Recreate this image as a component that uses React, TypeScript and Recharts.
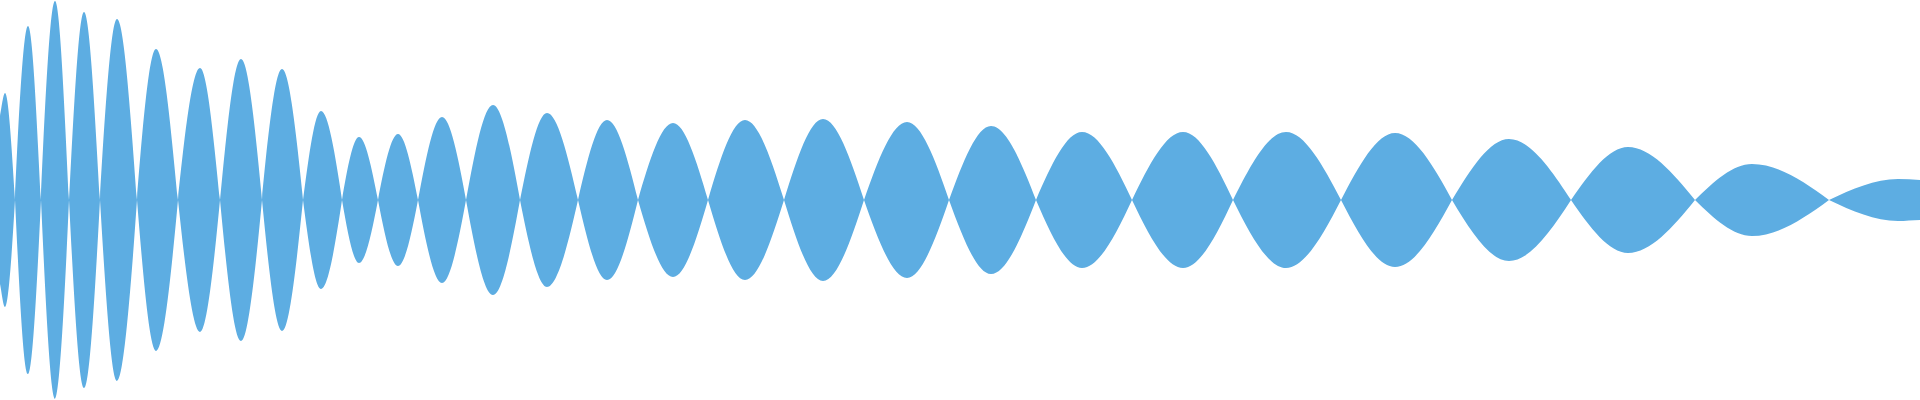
import React from 'react';
import { AreaChart, Area, XAxis, YAxis } from 'recharts';

// signal envelope: one lobe per half-cycle
const startX = 0;
const startAmp = 84;
const endX = 1920;
const endAmp = 20;

const peakX = [
  5, 28, 55, 84, 117, 156, 200, 241, 282, 321, 359, 398, 442, 493, 547,
  607, 673, 745, 823, 907, 991, 1082, 1183, 1286, 1395, 1509, 1628, 1752, 1898,
];
const peakAmp = [
  107, 174, 199, 188, 181, 151, 132, 141, 131, 89, 63, 66, 83, 95, 87,
  80, 77, 80, 81, 78, 74, 68, 68, 68, 67, 61, 53, 36, 21,
];
const crossX = [
  15, 41, 69, 100, 137, 178, 220, 262, 303, 342, 378, 418, 466, 520, 578,
  638, 708, 784, 864, 949, 1036, 1132, 1233, 1341, 1452, 1571, 1695, 1829,
];

const FILL = '#5dade2';

const buildData = () => {
  const rows: { x: number; v: number }[] = [{ x: startX, v: startAmp }];
  peakX.forEach((px, i) => {
    const sign = i % 2 === 0 ? 1 : -1;
    rows.push({ x: px, v: sign * peakAmp[i] });
    if (i < crossX.length) rows.push({ x: crossX[i], v: 0 });
  });
  rows.push({ x: endX, v: endAmp });
  // mirrored band between -v and v
  return rows.map((r) => ({ x: r.x, range: [-r.v, r.v] }));
};

const chartData = buildData();

// wave-shaped curve: flat at the peaks, steep through the zero crossings
const waveCurve = (context: any) => {
  let line = NaN;
  let pts: number[][] = [];

  const tangent = (i: number, s: number) => {
    if (i === 0 || i === pts.length - 1) return s;
    const a = pts[i][1] - pts[i - 1][1];
    const b = pts[i + 1][1] - pts[i][1];
    if (a * b <= 0) return 0;
    return (s * Math.PI) / 2;
  };

  return {
    areaStart() {
      line = 0;
    },
    areaEnd() {
      line = NaN;
    },
    lineStart() {
      pts = [];
    },
    point(x: number, y: number) {
      pts.push([+x, +y]);
    },
    lineEnd() {
      if (pts.length) {
        const [fx, fy] = pts[0];
        if (line) context.lineTo(fx, fy);
        else context.moveTo(fx, fy);
        for (let i = 0; i < pts.length - 1; i++) {
          const [x0, y0] = pts[i];
          const [x1, y1] = pts[i + 1];
          const h = x1 - x0;
          const s = h === 0 ? 0 : (y1 - y0) / h;
          const m0 = tangent(i, s);
          const m1 = tangent(i + 1, s);
          context.bezierCurveTo(
            x0 + h / 3,
            y0 + (m0 * h) / 3,
            x1 - h / 3,
            y1 - (m1 * h) / 3,
            x1,
            y1,
          );
        }
      }
      if (line || (line !== 0 && pts.length === 1)) context.closePath();
      line = 1 - line;
    },
  };
};

const App = () => {
  return (
    <div style={{ width: 1920, height: 400 }}>
      <style>{'body{margin:0}'}</style>
      <AreaChart
        width={1920}
        height={400}
        data={chartData}
        margin={{ top: 0, right: 0, bottom: 0, left: 0 }}
      >
        <XAxis type="number" dataKey="x" domain={[0, 1920]} hide />
        <YAxis type="number" domain={[-200, 200]} allowDataOverflow hide />
        <Area
          type={waveCurve as any}
          dataKey="range"
          stroke="none"
          fill={FILL}
          fillOpacity={1}
          dot={false}
          activeDot={false}
          isAnimationActive={false}
        />
      </AreaChart>
    </div>
  );
};

export default App;
